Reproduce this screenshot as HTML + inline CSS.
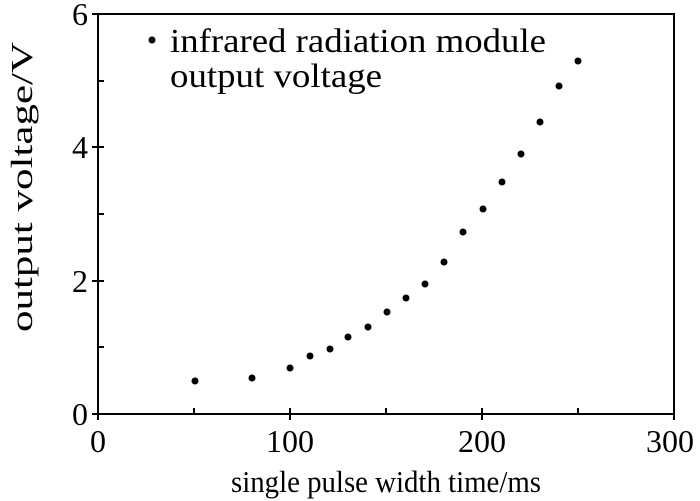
<!DOCTYPE html>
<html><head><style>body{margin:0;background:#fff}svg{display:block}</style></head><body>
<svg width="700" height="501" xmlns="http://www.w3.org/2000/svg" font-family="Liberation Serif, serif" fill="#000">
<rect x="98" y="14" width="576" height="400" fill="none" stroke="#000" stroke-width="2"/>
<g stroke="#000" stroke-width="2">
<line x1="92" y1="14" x2="104" y2="14"/><line x1="98" y1="81" x2="104" y2="81"/>
<line x1="92" y1="147" x2="104" y2="147"/><line x1="98" y1="214" x2="104" y2="214"/>
<line x1="92" y1="281" x2="104" y2="281"/><line x1="98" y1="347" x2="104" y2="347"/>
<line x1="92" y1="414" x2="104" y2="414"/>
<line x1="98" y1="408" x2="98" y2="420"/><line x1="194" y1="408" x2="194" y2="414"/>
<line x1="290" y1="408" x2="290" y2="420"/><line x1="386" y1="408" x2="386" y2="414"/>
<line x1="482" y1="408" x2="482" y2="420"/><line x1="578" y1="408" x2="578" y2="414"/>
<line x1="674" y1="408" x2="674" y2="420"/>
</g>
<g font-size="32" text-anchor="end">
<text x="88" y="25">6</text><text x="88" y="158">4</text><text x="88" y="292">2</text><text x="88" y="425">0</text>
</g>
<g font-size="32" text-anchor="middle">
<text x="98" y="452">0</text><text x="290" y="452">100</text><text x="482" y="452">200</text><text x="670" y="452">300</text>
</g>
<text x="231" y="492" font-size="31" textLength="310" lengthAdjust="spacingAndGlyphs">single pulse width time/ms</text>
<text transform="translate(32,332) rotate(-90)" font-size="31" textLength="290" lengthAdjust="spacingAndGlyphs">output voltage/V</text>
<circle cx="152" cy="40" r="3.5"/>
<text x="170" y="52" font-size="34" textLength="376" lengthAdjust="spacingAndGlyphs">infrared radiation module</text>
<text x="170" y="87" font-size="34" textLength="212" lengthAdjust="spacingAndGlyphs">output voltage</text>
<g>
<circle cx="195" cy="381" r="3.5"/><circle cx="252" cy="378" r="3.5"/><circle cx="290" cy="368" r="3.5"/>
<circle cx="310" cy="356" r="3.5"/><circle cx="330" cy="349" r="3.5"/><circle cx="348" cy="337" r="3.5"/>
<circle cx="368" cy="327" r="3.5"/><circle cx="387" cy="312" r="3.5"/><circle cx="406" cy="298" r="3.5"/>
<circle cx="425" cy="284" r="3.5"/><circle cx="444" cy="262" r="3.5"/><circle cx="463" cy="232" r="3.5"/>
<circle cx="483" cy="209" r="3.5"/><circle cx="502" cy="182" r="3.5"/><circle cx="521" cy="154" r="3.5"/>
<circle cx="540" cy="122" r="3.5"/><circle cx="559" cy="86" r="3.5"/><circle cx="578" cy="61" r="3.5"/>
</g>
</svg>
</body></html>
